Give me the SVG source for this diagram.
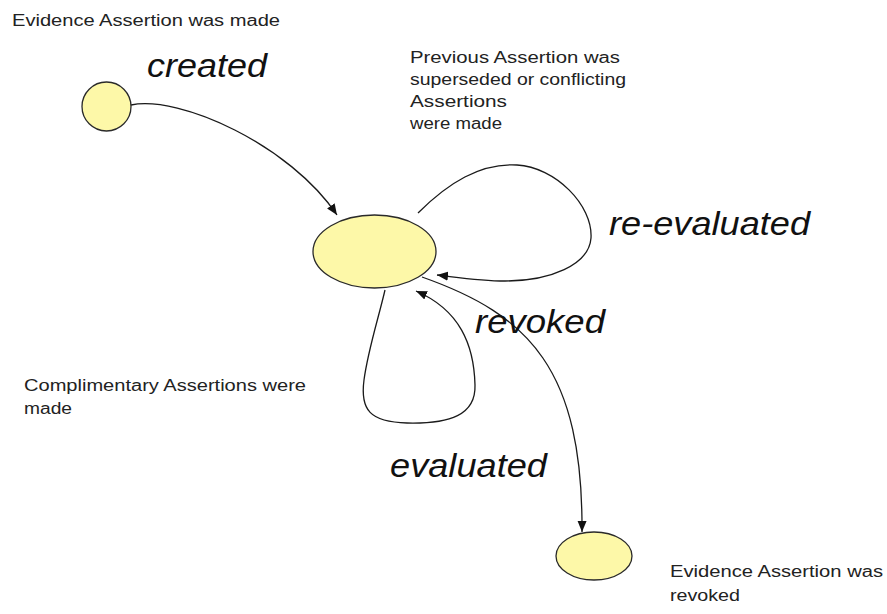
<svg xmlns="http://www.w3.org/2000/svg" width="887" height="614" viewBox="0 0 887 614">
  <defs>
    <marker id="arrow" markerUnits="userSpaceOnUse" markerWidth="12" markerHeight="10" refX="11" refY="4.5" orient="auto">
      <path d="M0,0 L11,4.5 L0,9 z" fill="#111"/>
    </marker>
    <style>
      .node { fill: #fdf8a8; stroke: #2a2a2a; stroke-width: 1.3; }
      .edge { fill: none; stroke: #1a1a1a; stroke-width: 1.3; marker-end: url(#arrow); }
      .note { font-family: "Liberation Sans", Arial, sans-serif; font-size: 16px; fill: #222; }
      .label { font-family: "Liberation Sans", Arial, sans-serif; font-size: 33px; font-style: italic; fill: #111; }
    </style>
  </defs>
  <rect width="887" height="614" fill="#ffffff"/>

  <g id="connectors">
    <path id="e-created" class="edge" d="M131,105 C180,95 290,145 337,215"/>
    <path id="e-reevaluated" class="edge" d="M418,213 C448,183 480,163 517,165 C555,167 593,205 591,238 C589,265 550,281 505,281 C480,281 455,277 437,275"/>
    <path id="e-evaluated" class="edge" d="M385,290 C378,320 368,350 364,380 C360,410 370,422 407,423 C450,424 476,415 475,385 C474,345 460,310 416,291"/>
    <path id="e-revoked" class="edge" d="M422,277 C530,315 583,370 582,532"/>
  </g>

  <g id="node-initial">
    <circle class="node" cx="106.5" cy="106.5" r="24.5"/>
  </g>
  <g id="node-active">
    <ellipse class="node" cx="374.5" cy="251.5" rx="61.5" ry="36.5"/>
  </g>
  <g id="node-revoked">
    <ellipse class="node" cx="594" cy="556" rx="38" ry="24"/>
  </g>

  <g id="labels">
    <text class="label" x="147" y="77" textLength="120" lengthAdjust="spacingAndGlyphs">created</text>
    <text class="label" x="609" y="235" textLength="201" lengthAdjust="spacingAndGlyphs">re-evaluated</text>
    <text class="label" x="475" y="333" textLength="130" lengthAdjust="spacingAndGlyphs">revoked</text>
    <text class="label" x="390" y="477" textLength="157" lengthAdjust="spacingAndGlyphs">evaluated</text>
  </g>

  <g id="notes">
    <text class="note" x="12" y="26" textLength="268" lengthAdjust="spacingAndGlyphs">Evidence Assertion was made</text>
    <text class="note" x="410" y="63" textLength="210" lengthAdjust="spacingAndGlyphs">Previous Assertion was</text>
    <text class="note" x="410" y="85" textLength="216" lengthAdjust="spacingAndGlyphs">superseded or conflicting</text>
    <text class="note" x="410" y="107" textLength="97" lengthAdjust="spacingAndGlyphs">Assertions</text>
    <text class="note" x="410" y="129" textLength="92" lengthAdjust="spacingAndGlyphs">were made</text>
    <text class="note" x="24" y="391" textLength="282" lengthAdjust="spacingAndGlyphs">Complimentary Assertions were</text>
    <text class="note" x="24" y="414" textLength="48" lengthAdjust="spacingAndGlyphs">made</text>
    <text class="note" x="670" y="577" textLength="213" lengthAdjust="spacingAndGlyphs">Evidence Assertion was</text>
    <text class="note" x="670" y="601" textLength="70" lengthAdjust="spacingAndGlyphs">revoked</text>
  </g>
</svg>
